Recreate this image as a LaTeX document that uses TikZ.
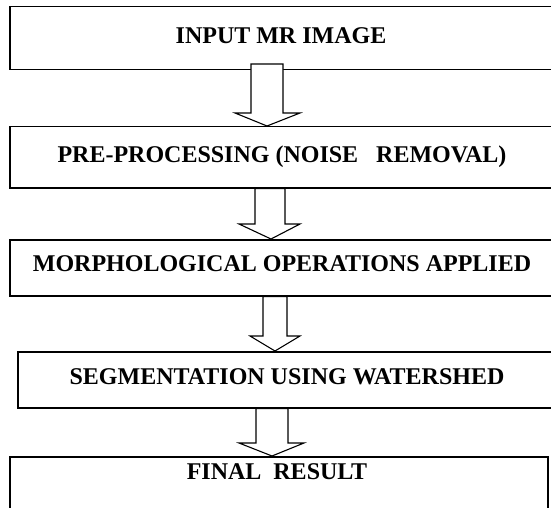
\documentclass[tikz,border=0pt]{standalone}
\usepackage{fontspec}
\setmainfont{Liberation Serif}
\tikzset{
  stagebox/.style={draw=black, line width=1.5pt, rectangle, inner sep=0pt, anchor=north west},
  stagetext/.style={font=\bfseries\fontsize{24}{26}\selectfont, inner sep=0pt, anchor=center},
  flowarrow/.style={draw=black, line width=1.1pt, fill=white, line join=miter}
}
% hollow block arrow: #1 from box, #2 to box, #3/#4 shaft x, #5/#6 wing x, #7 tip x, #8 head y
\newcommand\blockarrow[8]{%
  \draw[flowarrow] (#3,0 |- #1.south) -- (#3,#8) -- (#5,#8) -- (#7,0 |- #2.north)
    -- (#6,#8) -- (#4,#8) -- (#4,0 |- #1.south) -- cycle;
}
\begin{document}
\begin{tikzpicture}[x=1pt, y=-1pt]
\useasboundingbox (0,0) rectangle (551,508);
\clip (0,0) rectangle (551,508);

% processing stages
\node[stagebox, minimum width=560pt, minimum height=63pt] (b1) at (9,6) {};
\node[stagebox, minimum width=560pt, minimum height=61pt] (b2) at (9,126) {};
\node[stagebox, minimum width=560pt, minimum height=56pt] (b3) at (9,239) {};
\node[stagebox, minimum width=560pt, minimum height=56pt] (b4) at (17,351) {};
\node[stagebox, minimum width=538pt, minimum height=70pt] (b5) at (9,456) {};

\node[stagetext] (t1) at (281,36) {INPUT MR IMAGE};
\node[stagetext] (t2) at (282,157) {PRE-PROCESSING (NOISE\ \ \ REMOVAL)};
\node[stagetext] (t3) at (282,264) {MORPHOLOGICAL OPERATIONS APPLIED};
\node[stagetext] (t4) at (287,377) {SEGMENTATION USING WATERSHED};
\node[stagetext] (t5) at (277,472) {FINAL\ \ RESULT};

% arrows between stages; the first one starts a little inside its box
\coordinate (a1top) at (0,64);
\blockarrow{a1top}{b2}{251}{283}{235}{300}{267}{113}
\blockarrow{b2}{b3}{255}{285}{239}{300}{271}{224}
\blockarrow{b3}{b4}{263}{287}{250}{300}{275}{336}
\blockarrow{b4}{b5}{256}{288}{239}{304}{272}{443}
\end{tikzpicture}
\end{document}
